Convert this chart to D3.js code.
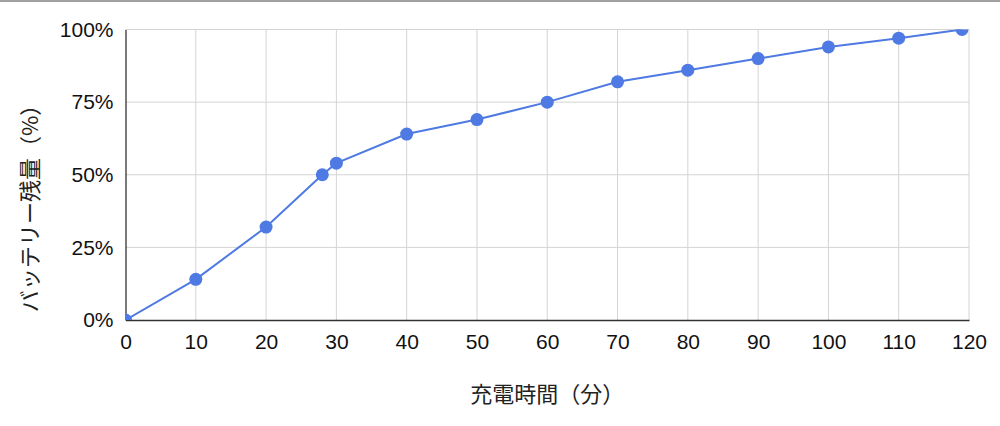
<!DOCTYPE html>
<html>
<head>
<meta charset="utf-8">
<script src="https://cdn.jsdelivr.net/npm/d3@7"></script>
<style>
  body { margin: 0; background: #fff; }
  svg { display: block; }
</style>
</head>
<body>
<svg id="chart" width="1000" height="426"></svg>
<script>
// charge time (min) vs battery level (%)
const minutes = [0, 10, 20, 28, 30, 40, 50, 60, 70, 80, 90, 100, 110, 119];
const battery = [0, 14, 32, 50, 54, 64, 69, 75, 82, 86, 90, 94, 97, 100];
const xTicks = [0, 10, 20, 30, 40, 50, 60, 70, 80, 90, 100, 110, 120];
const yTicks = [0, 25, 50, 75, 100];
const xTitle = "充電時間（分）";
const yTitle = "バッテリー残量（%）";

const width = 1000, height = 426;
const margin = { top: 29.5, right: 31, bottom: 106, left: 125.5 };
const blue = "#4f7ae3";
const latin = "'Liberation Sans', Arial, sans-serif";
const cjk = "'Noto Sans CJK JP', 'Noto Sans', sans-serif";

const svg = d3.select("#chart");

// thin grey strip along the top of the screenshot
svg.append("line")
  .attr("x1", 0).attr("x2", width)
  .attr("y1", 1).attr("y2", 1)
  .attr("stroke", "#a0a0a0")
  .attr("stroke-width", 2);

const x = d3.scaleLinear().domain([0, 120]).range([margin.left, width - margin.right]);
const y = d3.scaleLinear().domain([0, 100]).range([height - margin.bottom, margin.top]);

// grid
svg.append("g")
  .selectAll("line")
  .data(xTicks.slice(1))
  .join("line")
  .attr("x1", d => x(d)).attr("x2", d => x(d))
  .attr("y1", y(0)).attr("y2", y(100))
  .attr("stroke", "#d4d4d4");
svg.append("g")
  .selectAll("line")
  .data(yTicks.slice(1))
  .join("line")
  .attr("x1", x(0)).attr("x2", x(120))
  .attr("y1", d => y(d)).attr("y2", d => y(d))
  .attr("stroke", "#d4d4d4");

// axes
const xAxis = svg.append("g")
  .attr("transform", `translate(0,${y(0)})`)
  .call(d3.axisBottom(x).tickValues(xTicks).tickSize(0).tickPadding(14).tickFormat(d3.format("d")));
xAxis.select(".domain").attr("stroke", "#333").attr("stroke-width", 1.3);
xAxis.selectAll("text").attr("font-family", latin).attr("font-size", 21).attr("fill", "#111");

const yAxis = svg.append("g")
  .attr("transform", `translate(${x(0)},0)`)
  .call(d3.axisLeft(y).tickValues(yTicks).tickSize(0).tickPadding(12).tickFormat(d => d + "%"));
yAxis.select(".domain").attr("stroke", "#333").attr("stroke-width", 1.3);
yAxis.selectAll("text").attr("font-family", latin).attr("font-size", 21).attr("fill", "#111");

// axis titles
svg.append("text")
  .attr("x", (x(0) + x(120)) / 2).attr("y", 402)
  .attr("text-anchor", "middle")
  .attr("font-family", cjk).attr("font-size", 22).attr("fill", "#222")
  .text(xTitle);
svg.append("text")
  .attr("transform", "translate(38,203) rotate(-90)")
  .attr("text-anchor", "middle")
  .attr("font-family", cjk).attr("font-size", 22).attr("fill", "#222")
  .text(yTitle);

// clip the series to the plot area
svg.append("clipPath").attr("id", "plot")
  .append("rect")
  .attr("x", x(0)).attr("y", y(100))
  .attr("width", x(120) - x(0)).attr("height", y(0) - y(100));

const data = minutes.map((m, i) => ({ m, v: battery[i] }));
const plot = svg.append("g").attr("clip-path", "url(#plot)");

plot.append("path")
  .datum(data)
  .attr("d", d3.line().x(d => x(d.m)).y(d => y(d.v)))
  .attr("fill", "none")
  .attr("stroke", blue)
  .attr("stroke-width", 2);

plot.selectAll("circle")
  .data(data)
  .join("circle")
  .attr("cx", d => x(d.m))
  .attr("cy", d => y(d.v))
  .attr("r", 6.5)
  .attr("fill", blue);
</script>
</body>
</html>
